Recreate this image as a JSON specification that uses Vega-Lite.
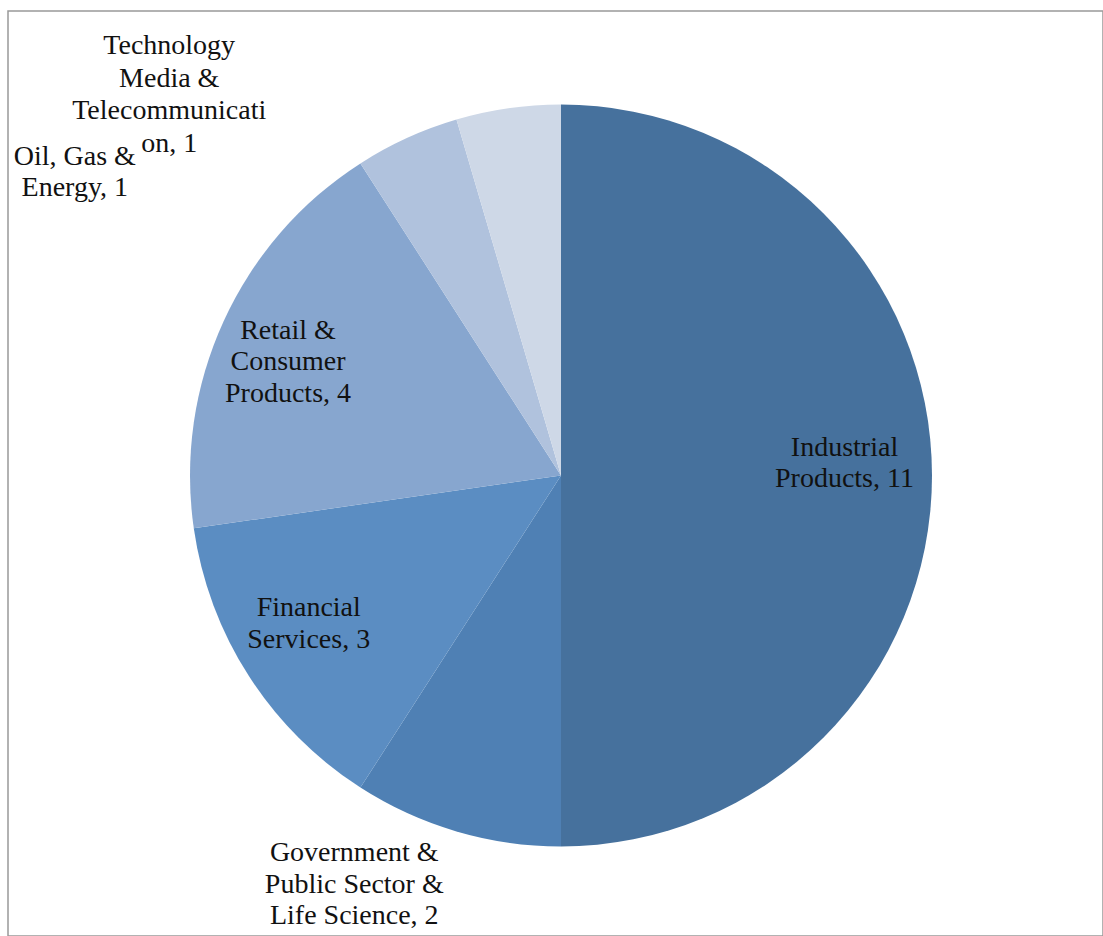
{
  "$schema": "https://vega.github.io/schema/vega-lite/v6.json",
  "width": 1095,
  "height": 925,
  "autosize": "none",
  "padding": {"left": 8, "top": 11, "right": 0, "bottom": 0},
  "background": "white",
  "config": {"view": {"stroke": null}},
  "data": {
    "values": [
      {"sector": "Industrial Products", "count": 11, "label": "Industrial\nProducts, 11"},
      {"sector": "Government & Public Sector & Life Science", "count": 2, "label": "Government &\nPublic Sector &\nLife Science, 2"},
      {"sector": "Financial Services", "count": 3, "label": "Financial\nServices, 3"},
      {"sector": "Retail & Consumer Products", "count": 4, "label": "Retail &\nConsumer\nProducts, 4"},
      {"sector": "Oil, Gas & Energy", "count": 1, "label": "Oil, Gas &\nEnergy, 1"},
      {"sector": "Technology Media & Telecommunication", "count": 1, "label": "Technology\nMedia &\nTelecommunicati\non, 1"}
    ]
  },
  "transform": [
    {"calculate": "indexof(['Industrial Products', 'Government & Public Sector & Life Science', 'Financial Services', 'Retail & Consumer Products', 'Oil, Gas & Energy', 'Technology Media & Telecommunication'], datum.sector)", "as": "slice_order"}
  ],
  "layer": [
    {
      "mark": {"type": "arc", "radius": 371, "xOffset": 5.5, "yOffset": 2},
      "encoding": {
        "theta": {"field": "count", "type": "quantitative", "stack": true},
        "order": {"field": "slice_order", "type": "quantitative"},
        "color": {
          "field": "sector",
          "type": "nominal",
          "scale": {
            "domain": ["Industrial Products", "Government & Public Sector & Life Science", "Financial Services", "Retail & Consumer Products", "Oil, Gas & Energy", "Technology Media & Telecommunication"],
            "range": ["#46719D", "#4F80B4", "#5B8DC2", "#87A6CF", "#B0C2DD", "#CED8E7"]
          },
          "legend": null
        }
      }
    },
    {
      "mark": {"type": "text", "radius": 288, "xOffset": 5.5, "yOffset": 2, "dx": -4.5, "dy": -28, "font": "Liberation Serif", "fontSize": 28, "lineBreak": "\n", "lineHeight": 31.5, "baseline": "middle", "align": "center", "color": "#111111"},
      "encoding": {
        "theta": {"field": "count", "type": "quantitative", "stack": true},
        "order": {"field": "slice_order", "type": "quantitative"},
        "text": {"condition": {"test": "datum.sector == 'Industrial Products'", "field": "label"}, "value": ""}
      }
    },
    {
      "mark": {"type": "text", "radius": 288, "xOffset": 5.5, "yOffset": 2, "dx": -10, "dy": -23, "font": "Liberation Serif", "fontSize": 28, "lineBreak": "\n", "lineHeight": 31.5, "baseline": "middle", "align": "center", "color": "#111111"},
      "encoding": {
        "theta": {"field": "count", "type": "quantitative", "stack": true},
        "order": {"field": "slice_order", "type": "quantitative"},
        "text": {"condition": {"test": "datum.sector == 'Financial Services'", "field": "label"}, "value": ""}
      }
    },
    {
      "mark": {"type": "text", "radius": 288, "xOffset": 5.5, "yOffset": 2, "dx": -11, "dy": -25, "font": "Liberation Serif", "fontSize": 28, "lineBreak": "\n", "lineHeight": 31.5, "baseline": "middle", "align": "center", "color": "#111111"},
      "encoding": {
        "theta": {"field": "count", "type": "quantitative", "stack": true},
        "order": {"field": "slice_order", "type": "quantitative"},
        "text": {"condition": {"test": "datum.sector == 'Retail & Consumer Products'", "field": "label"}, "value": ""}
      }
    },
    {
      "mark": {"type": "text", "radius": 425, "xOffset": 5.5, "yOffset": 2, "dx": -87, "dy": -30, "font": "Liberation Serif", "fontSize": 28, "lineBreak": "\n", "lineHeight": 31.5, "baseline": "middle", "align": "center", "color": "#111111"},
      "encoding": {
        "theta": {"field": "count", "type": "quantitative", "stack": true},
        "order": {"field": "slice_order", "type": "quantitative"},
        "text": {"condition": {"test": "datum.sector == 'Government & Public Sector & Life Science'", "field": "label"}, "value": ""}
      }
    },
    {
      "mark": {"type": "text", "radius": 335, "xOffset": 5.5, "yOffset": 2, "dx": -347, "dy": -14, "font": "Liberation Serif", "fontSize": 28, "lineBreak": "\n", "lineHeight": 31.5, "baseline": "middle", "align": "center", "color": "#111111"},
      "encoding": {
        "theta": {"field": "count", "type": "quantitative", "stack": true},
        "order": {"field": "slice_order", "type": "quantitative"},
        "text": {"condition": {"test": "datum.sector == 'Oil, Gas & Energy'", "field": "label"}, "value": ""}
      }
    },
    {
      "mark": {"type": "text", "radius": 385, "xOffset": 5.5, "yOffset": 2, "dx": -337, "dy": -48, "font": "Liberation Serif", "fontSize": 28, "lineBreak": "\n", "lineHeight": 32.5, "baseline": "middle", "align": "center", "color": "#111111"},
      "encoding": {
        "theta": {"field": "count", "type": "quantitative", "stack": true},
        "order": {"field": "slice_order", "type": "quantitative"},
        "text": {"condition": {"test": "datum.sector == 'Technology Media & Telecommunication'", "field": "label"}, "value": ""}
      }
    },
    {
      "data": {"values": [{"frame": "border"}]},
      "mark": {"type": "rect", "fill": "white", "fillOpacity": 0, "stroke": "#999999", "strokeWidth": 1.5},
      "encoding": {}
    }
  ]
}
